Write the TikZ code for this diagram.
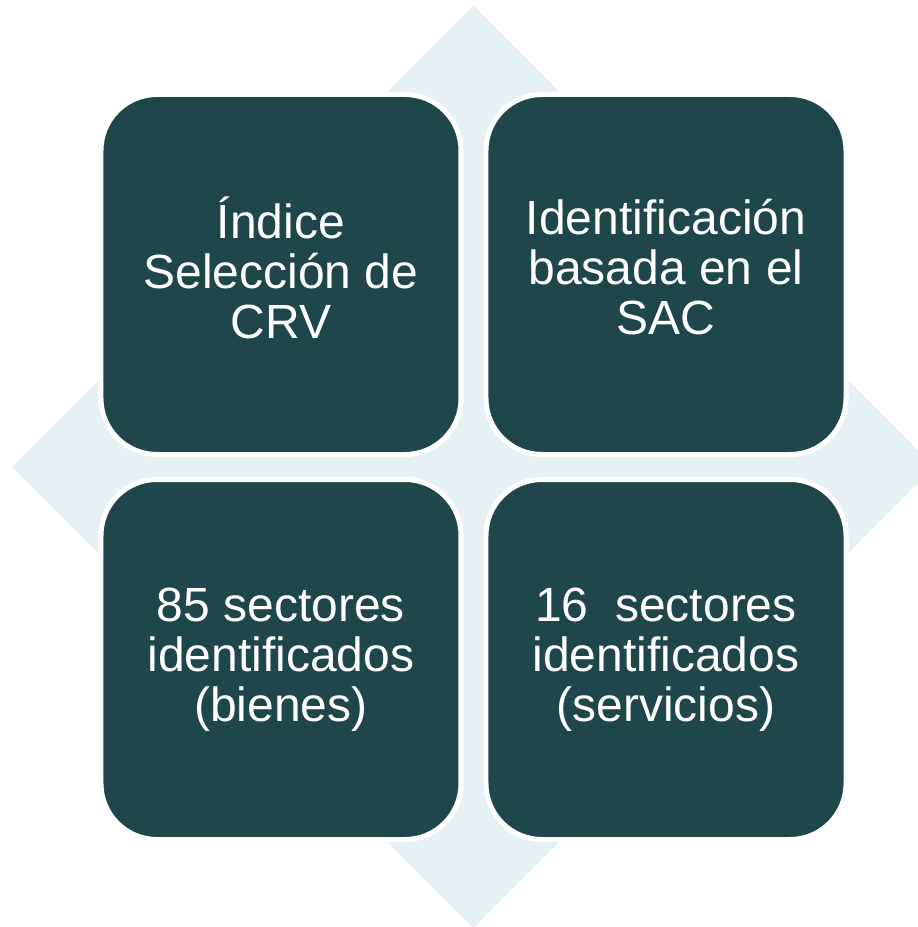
\documentclass[tikz,border=0pt]{standalone}
\usepackage{fontspec}
\setmainfont{Liberation Sans}
\usepackage{tikz}
\definecolor{TEAL}{HTML}{1F464A}
\definecolor{PALE}{HTML}{E6F1F3}

\begin{document}
\begin{tikzpicture}[x=1pt, y=1pt,
    cuadro/.style={draw=white, line width=5pt, fill=TEAL, rounded corners=56pt,
        minimum size=360pt, inner sep=0pt},
    texto/.style={align=center, text=white, inner sep=0pt,
        font=\fontsize{48}{50}\selectfont}]
    \useasboundingbox (-473.5,-460) rectangle (444.5,467);
    \clip (-473.5,-460) rectangle (444.5,467);
    % diamond behind the four boxes
    \fill[PALE] (0,461) -- (461,0) -- (0,-461) -- (-461,0) -- cycle;
    \node[cuadro] (indice) at (-192.5,192.5) {};
    \node[cuadro] (sac) at (192.5,192.5) {};
    \node[cuadro] (bienes) at (-192.5,-192.5) {};
    \node[cuadro] (servicios) at (192.5,-192.5) {};
    % texts
    \node[texto, yshift=7pt] (indice-t) at (indice) {Índice\\Selección de\\CRV};
    \node[texto, yshift=7pt] (sac-t) at (sac) {Identificación\\basada en el\\SAC};
    \node[texto] (bienes-t) at (bienes) {85 sectores\\identificados\\(bienes)};
    \node[texto] (servicios-t) at (servicios) {16\ \ sectores\\identificados\\(servicios)};
\end{tikzpicture}
\end{document}
